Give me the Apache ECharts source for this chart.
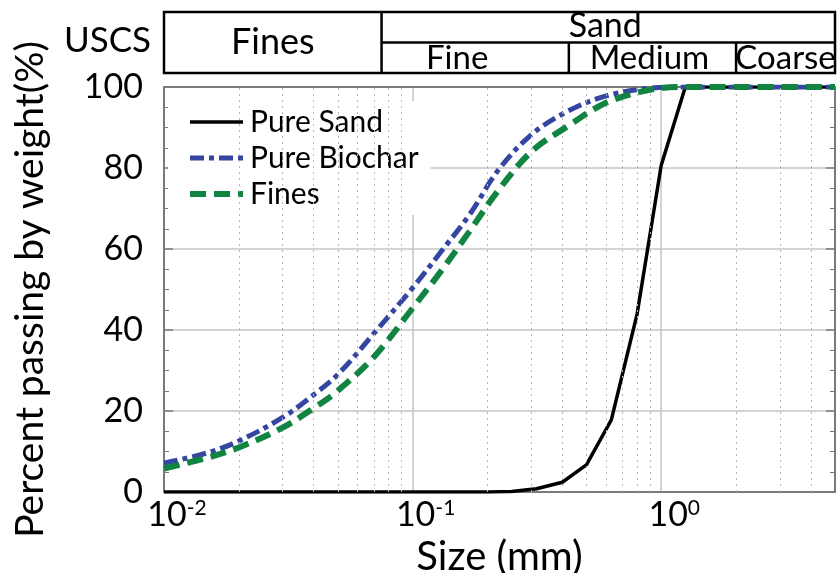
<!DOCTYPE html>
<html>
<head>
<meta charset="utf-8">
<script src="https://cdn.jsdelivr.net/npm/echarts@6/dist/echarts.min.js"></script>
<style>
  html, body { margin: 0; padding: 0; background: #ffffff; }
  #chart { width: 838px; height: 573px; }
</style>
</head>
<body>
<div id="chart"></div>
<script>
// Grain size distribution: percent passing (%) vs particle size (mm)
const FONT = 'Lato';

const sandSizes   = [0.01, 0.1, 0.2, 0.25, 0.315, 0.4, 0.5, 0.63, 0.8, 1.0, 1.25, 2, 5];
const sandPassing = [0, 0, 0, 0.1, 0.8, 2.4, 6.7, 17.8, 44, 80.7, 100, 100, 100];

const mixSizes       = [0.01, 0.015, 0.02, 0.03, 0.04, 0.05, 0.07, 0.1, 0.13, 0.17, 0.22, 0.3, 0.42, 0.6, 0.9, 1.25, 2, 5];
const biocharPassing = [7.1, 9.7, 12.6, 18.4, 24.0, 29.0, 39.2, 50.4, 59.3, 68.6, 79.3, 88.2, 94.0, 97.8, 99.7, 100, 100, 100];
const finesPassing   = [5.8, 8.5, 11.0, 15.9, 20.7, 25.0, 33.4, 45.4, 54.5, 64.5, 74.3, 84.0, 90.3, 96.1, 99.3, 100, 100, 100];

const seriesNames = ['Pure Sand', 'Pure Biochar', 'Fines'];

// axis ranges and tick values
const xRange = [0.01, 5];
const decadeTicks = [0.01, 0.1, 1];
const minorGridSizes = [0.02, 0.03, 0.04, 0.05, 0.06, 0.07, 0.08, 0.09,
                        0.2, 0.3, 0.4, 0.5, 0.6, 0.7, 0.8, 0.9, 2, 3, 4];
const yRange = [0, 100];
const yStep = 20;

// USCS classification boundaries (mm) and labels
const finesSandBoundary = 0.075;
const sandSubBoundaries = [0.425, 2.0];
const classLabel = 'USCS';
const finesLabel = 'Fines';
const sandLabel = 'Sand';
const sandSubLabels = ['Fine', 'Medium', 'Coarse'];

// line styles per series
const styles = [
  { color: '#000000', width: 3.5, type: 'solid' },
  { color: '#3546a1', width: 5, type: [14, 5, 5, 5] },
  { color: '#128441', width: 6, type: [16, 8] }
];

const toPairs = (xs, ys) => xs.map((x, i) => [x, ys[i]]);
const exponentOf = v => Math.round(Math.log10(v));

const chart = echarts.init(document.getElementById('chart'), null, { renderer: 'canvas' });

const axisGray = '#7a7a7a';
const gridGray = '#c4c4c4';

const lineSeries = (i, xs, ys, extra) => Object.assign({
  name: seriesNames[i],
  type: 'line',
  z: 3 + i,
  data: toPairs(xs, ys),
  showSymbol: false,
  symbol: 'none',
  lineStyle: { color: styles[i].color, width: styles[i].width, type: styles[i].type },
  itemStyle: { color: styles[i].color }
}, extra || {});

const option = {
  animation: false,
  backgroundColor: '#ffffff',
  textStyle: { fontFamily: FONT },
  grid: { left: 164, right: 3, top: 87, bottom: 81, containLabel: false, outerBoundsMode: 'none' },
  legend: {
    data: seriesNames.map((n, i) => ({
      name: n,
      itemStyle: { color: 'rgba(0,0,0,0)', borderWidth: 0, opacity: 0 },
      lineStyle: { color: styles[i].color, width: styles[i].width, type: styles[i].type }
    })),
    orient: 'vertical',
    left: 168,
    top: 101,
    padding: [6, 12, 6, 19],
    itemGap: 6,
    itemWidth: 53,
    itemHeight: 14,
    backgroundColor: '#ffffff',
    borderWidth: 0,
    textStyle: { fontFamily: FONT, fontSize: 30, lineHeight: 27, color: '#000000', padding: [0, 0, 0, 2] },
    selectedMode: false
  },
  xAxis: [
    {
      type: 'log',
      logBase: 10,
      min: xRange[0],
      max: xRange[1],
      name: 'Size (mm)',
      nameLocation: 'middle',
      nameGap: 34,
      nameTextStyle: { fontFamily: FONT, fontSize: 40, color: '#000000' },
      axisLine: { show: true, onZero: false, lineStyle: { color: axisGray, width: 2 } },
      axisTick: { show: false },
      splitLine: { show: true, lineStyle: { color: gridGray, width: 1.5 } },
      axisLabel: {
        margin: 6,
        padding: [0, 0, 0, 26],
        formatter: v => decadeTicks.some(t => Math.abs(t - v) < 1e-9)
          ? '{b|10}{s|' + exponentOf(v) + '}' : '',
        rich: {
          b: { fontFamily: FONT, fontSize: 34, lineHeight: 34, color: '#000000', verticalAlign: 'bottom' },
          s: { fontFamily: FONT, fontSize: 21, color: '#000000', verticalAlign: 'top' }
        }
      }
    },
    {
      type: 'log',
      logBase: 10,
      min: xRange[0],
      max: xRange[1],
      position: 'top',
      axisLine: { show: true, onZero: false, lineStyle: { color: axisGray, width: 2 } },
      axisTick: { show: false },
      axisLabel: { show: false },
      splitLine: { show: false }
    }
  ],
  yAxis: [
    {
      type: 'value',
      min: yRange[0],
      max: yRange[1],
      interval: yStep,
      name: 'Percent passing by weight(%)',
      nameLocation: 'middle',
      nameGap: 114,
      nameTextStyle: { fontFamily: FONT, fontSize: 39, color: '#000000' },
      axisLine: { show: true, lineStyle: { color: axisGray, width: 2 } },
      axisTick: { show: true, inside: true, length: 9, lineStyle: { color: axisGray, width: 1.5 } },
      minorTick: { show: true, splitNumber: 4, length: 5, lineStyle: { color: axisGray, width: 1 } },
      splitLine: { show: true, lineStyle: { color: gridGray, width: 1.5 } },
      axisLabel: {
        margin: 21,
        padding: [0, 0, 20, 0],
        fontFamily: FONT, fontSize: 34, color: '#000000'
      }
    },
    {
      type: 'value',
      min: yRange[0],
      max: yRange[1],
      interval: yStep,
      position: 'right',
      axisLine: { show: true, lineStyle: { color: axisGray, width: 2 } },
      axisTick: { show: true, inside: true, length: 9, lineStyle: { color: axisGray, width: 1.5 } },
      minorTick: { show: true, splitNumber: 4, length: 5, lineStyle: { color: axisGray, width: 1 } },
      axisLabel: { show: false },
      splitLine: { show: false }
    }
  ],
  series: [
    {
      // dotted minor grid at 2..9 of each decade
      name: 'minor-grid',
      type: 'line',
      data: [],
      z: 1,
      silent: true,
      markLine: {
        silent: true,
        symbol: ['none', 'none'],
        label: { show: false },
        lineStyle: { type: [2, 4], color: '#b4b4b4', width: 1 },
        data: minorGridSizes.map(v => ({ xAxis: v }))
      }
    },
    lineSeries(0, sandSizes, sandPassing),
    lineSeries(1, mixSizes, biocharPassing, { smooth: 0.35 }),
    lineSeries(2, mixSizes, finesPassing, { smooth: 0.35 })
  ]
};

chart.setOption(option);

// USCS classification table above the plot, columns located on the size axis
function drawClassTable() {
  const px = v => chart.convertToPixel({ xAxisIndex: 0 }, v);
  const xL = px(xRange[0]);
  const xR = px(xRange[1]);
  const xFS = px(finesSandBoundary);
  const xSub = sandSubBoundaries.map(px);
  const top = 12, bottom = 73, mid = 42.5;
  const stroke = { stroke: '#000000', lineWidth: 2.5 };
  const txt = (x, y, text, size, align) => ({
    type: 'text', x: x, y: y,
    style: { text: text, fill: '#000000', font: size + 'px ' + FONT, align: align || 'center', verticalAlign: 'middle' }
  });
  const cols = [xFS].concat(xSub).concat([xR]);
  // horizontal nudges of the sub-class labels within their cells
  const subShift = [-18, -3, 0];
  const graphics = [
    { type: 'rect', shape: { x: xL, y: top, width: xR - xL, height: bottom - top }, style: Object.assign({ fill: 'none' }, stroke) },
    { type: 'line', shape: { x1: xFS, y1: top, x2: xFS, y2: bottom }, style: stroke },
    { type: 'line', shape: { x1: xFS, y1: mid, x2: xR, y2: mid }, style: stroke },
    { type: 'line', shape: { x1: xSub[0], y1: mid, x2: xSub[0], y2: bottom }, style: stroke },
    { type: 'line', shape: { x1: xSub[1], y1: mid, x2: xSub[1], y2: bottom }, style: stroke },
    txt(xL - 13, 41, classLabel, 35, 'right'),
    txt((xL + xFS) / 2, 42, finesLabel, 36),
    txt((xFS + xR) / 2 - 3, 26, sandLabel, 34)
  ];
  sandSubLabels.forEach((lab, i) => {
    graphics.push(txt((cols[i] + cols[i + 1]) / 2 + subShift[i], 58.5, lab, 33));
  });
  chart.setOption({ graphic: graphics });
}
drawClassTable();
</script>
</body>
</html>
